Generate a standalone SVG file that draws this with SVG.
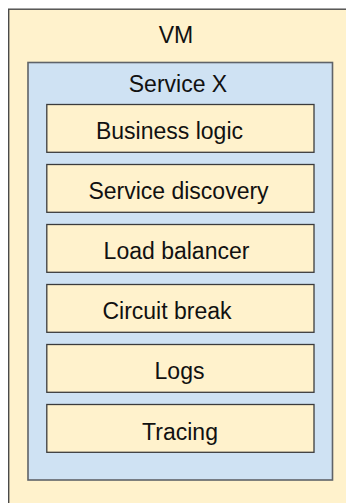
<svg xmlns="http://www.w3.org/2000/svg" width="346" height="503" viewBox="0 0 346 503">
  <style>
    .vm { fill: #fff2cc; stroke: #4a4a4a; stroke-width: 1.4; }
    .svc { fill: #cfe2f3; stroke: #5f6368; stroke-width: 1.6; }
    .comp { fill: #fff2cc; stroke: #3c3c3c; stroke-width: 1.3; }
    text { font-family: "Liberation Sans", Arial, sans-serif; font-size: 23px; fill: #111; text-anchor: middle; }
  </style>
  <rect width="346" height="503" fill="#ffffff"/>
  <g id="vm">
    <rect class="vm" x="8.7" y="9.2" width="350" height="510"/>
    <text x="176" y="43.3">VM</text>
  </g>
  <g id="service-x">
    <rect class="svc" x="28" y="62.5" width="304.5" height="417.5"/>
    <text x="178" y="91.7">Service X</text>
  </g>
  <g id="business-logic">
    <rect class="comp" x="46.8" y="104.5" width="267.2" height="47.8"/>
    <text x="169.5" y="139">Business logic</text>
  </g>
  <g id="service-discovery">
    <rect class="comp" x="46.8" y="164.5" width="267.2" height="47.8"/>
    <text x="178.5" y="198.7">Service discovery</text>
  </g>
  <g id="load-balancer">
    <rect class="comp" x="46.8" y="224.5" width="267.2" height="47.8"/>
    <text x="176.5" y="259">Load balancer</text>
  </g>
  <g id="circuit-break">
    <rect class="comp" x="46.8" y="284.5" width="267.2" height="47.8"/>
    <text x="167" y="319">Circuit break</text>
  </g>
  <g id="logs">
    <rect class="comp" x="46.8" y="344.5" width="267.2" height="47.8"/>
    <text x="179.5" y="379">Logs</text>
  </g>
  <g id="tracing">
    <rect class="comp" x="46.8" y="404.5" width="267.2" height="47.8"/>
    <text x="180" y="439.5">Tracing</text>
  </g>
  <g id="connectors"/>
</svg>
